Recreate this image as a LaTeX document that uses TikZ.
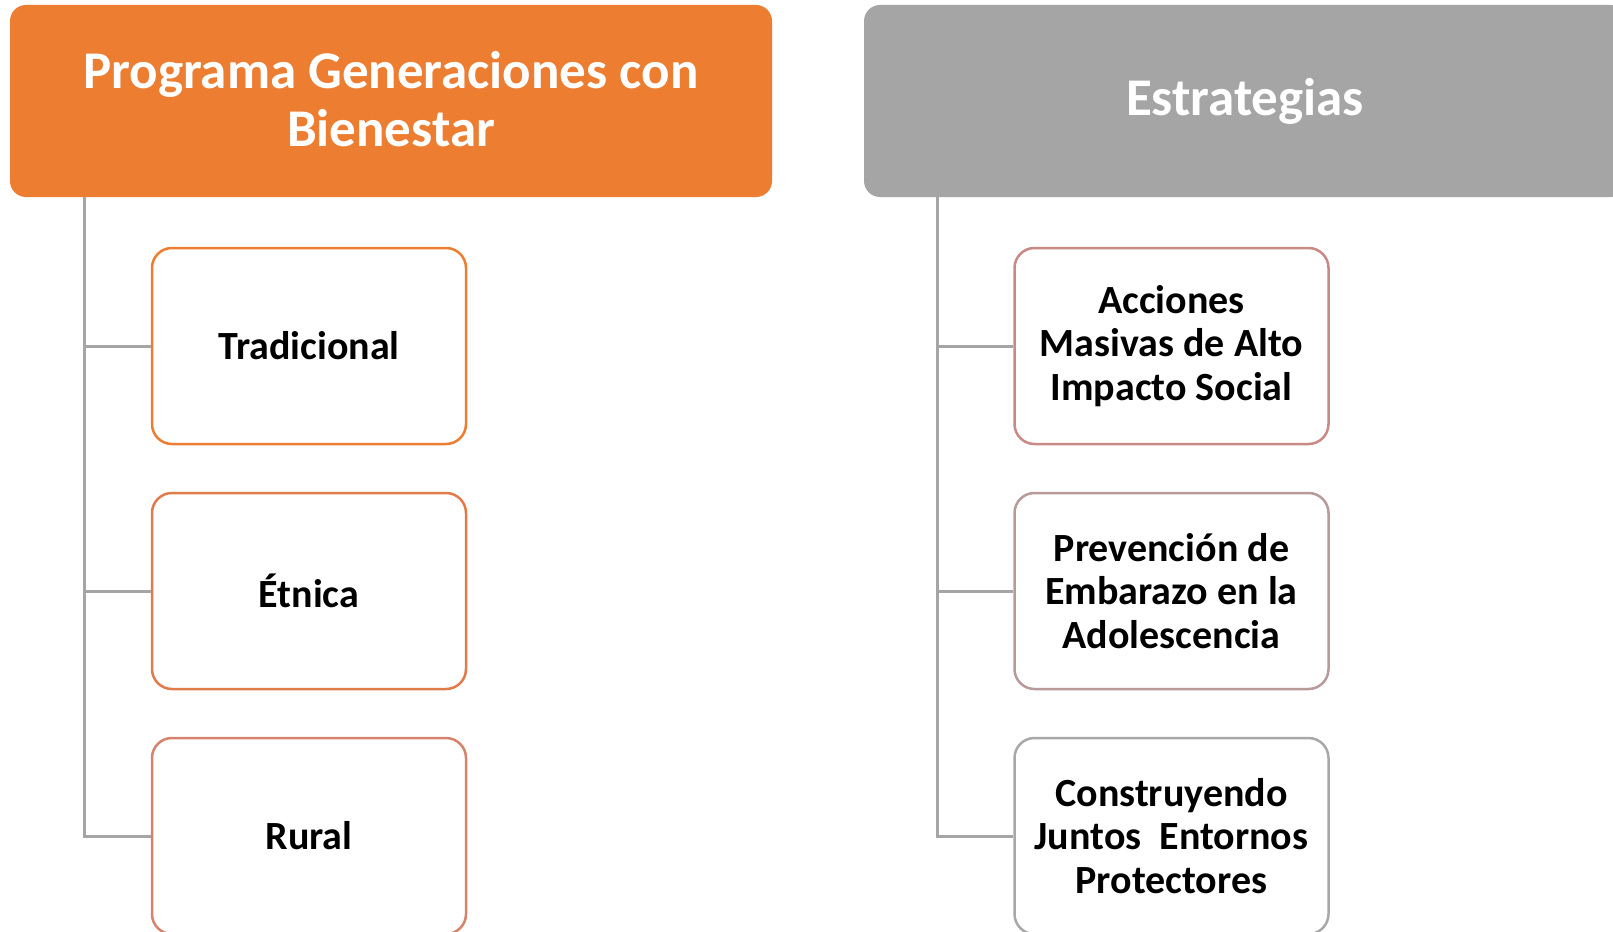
\documentclass[tikz,border=0pt]{standalone}
\usepackage{fontspec}
\setmainfont{Carlito}
\definecolor{orgc}{HTML}{ED7D31}
\definecolor{greyc}{HTML}{A5A5A5}
\definecolor{lineg}{HTML}{A5A5A5}
\definecolor{cA}{HTML}{ED7D31}
\definecolor{cB}{HTML}{E27B4A}
\definecolor{cC}{HTML}{D6836B}
\definecolor{cD}{HTML}{C98A86}
\definecolor{cE}{HTML}{B89A9A}
\definecolor{cF}{HTML}{A8A8A8}
\begin{document}
\begin{tikzpicture}[x=1pt,y=-1pt,
  hdr/.style={rounded corners=16pt, minimum width=762pt, minimum height=192pt,
    text=white, font=\fontsize{53}{59}\selectfont\bfseries, align=center, inner sep=0pt},
  child/.style={draw, line width=2.5pt, rounded corners=20pt, fill=white,
    minimum width=314pt, minimum height=196pt, inner sep=0pt,
    font=\fontsize{40}{43.5}\selectfont\bfseries, align=center},
  conn/.style={draw=lineg, line width=3pt}]
\useasboundingbox (0,0) rectangle (1613,931);
\clip (0,0) rectangle (1613,931);
\fill[white] (0,0) rectangle (1613,931);
\node[hdr, fill=orgc] (h1) at (391,101) {\raisebox{5pt}{\shortstack{Programa Generaciones con\\[9pt]Bienestar}}};
\node[hdr, fill=greyc] (h2) at (1245,101) {\raisebox{-2pt}{Estrategias}};
\coordinate (l0) at ([xshift=75pt]h1.south west);
\coordinate (r0) at ([xshift=74pt]h2.south west);
\node[child, draw=cA] (c1) at (309,346) {Tradicional};
\node[child, draw=cB] (c2) at (309,591) {Étnica};
\node[child, draw=cC] (c3) at (309,836) {Rural};
\node[child, draw=cD] (d1) at (1171.5,346) {Acciones\\Masivas de Alto\\Impacto Social};
\node[child, draw=cE] (d2) at (1171.5,591) {Prevención de\\Embarazo en la\\Adolescencia};
\node[child, draw=cF] (d3) at (1171.5,836) {Construyendo\\Juntos~ Entornos\\Protectores};
\draw[conn] (l0) |- (c3.west);
\draw[conn] (l0 |- c1.west) -- (c1.west);
\draw[conn] (l0 |- c2.west) -- (c2.west);
\draw[conn] (r0) |- (d3.west);
\draw[conn] (r0 |- d1.west) -- (d1.west);
\draw[conn] (r0 |- d2.west) -- (d2.west);
\end{tikzpicture}
\end{document}
